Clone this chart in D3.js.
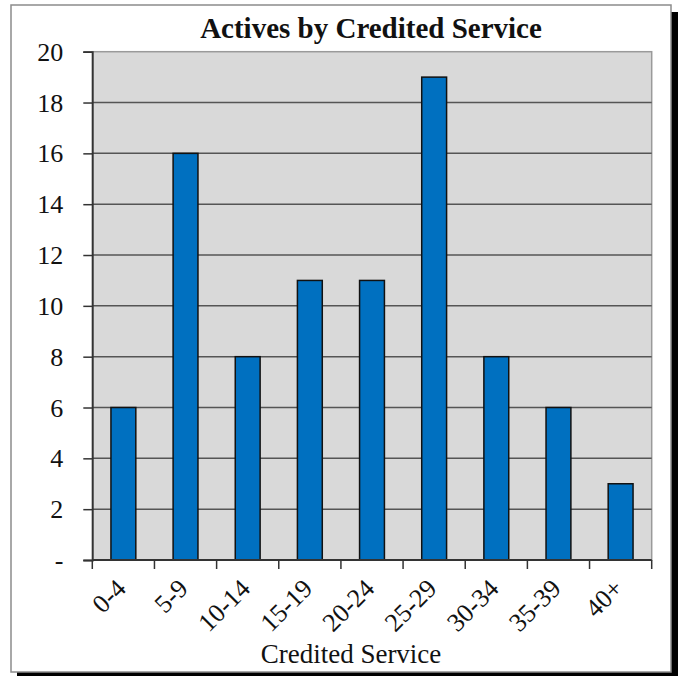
<!DOCTYPE html>
<html>
<head>
<meta charset="utf-8">
<script src="https://cdn.jsdelivr.net/npm/d3@7/dist/d3.min.js"></script>
<style>
  html, body { margin: 0; padding: 0; background: #fff; }
  svg { display: block; }
</style>
</head>
<body>
<svg id="chart" width="678" height="676"></svg>
<script>
// Number of active members in each credited-service band
const categories = ["0-4", "5-9", "10-14", "15-19", "20-24", "25-29", "30-34", "35-39", "40+"];
const actives = [6, 16, 8, 11, 11, 19, 8, 6, 3];
const yTicks = [0, 2, 4, 6, 8, 10, 12, 14, 16, 18, 20];

const svg = d3.select("#chart");
const font = "'Liberation Serif', 'Times New Roman', serif";

// Outer frame with drop shadow
svg.append("rect").attr("x", 17).attr("y", 12).attr("width", 661).attr("height", 664).attr("fill", "#000");
svg.append("rect").attr("x", 11).attr("y", 5).attr("width", 660).attr("height", 667)
  .attr("fill", "#fff").attr("stroke", "#8c8c8c").attr("stroke-width", 1.5);

const plot = { left: 92.3, right: 651.7, top: 51.7, bottom: 560 };

const x = d3.scaleBand().domain(categories).range([plot.left, plot.right]).paddingInner(0.6).paddingOuter(0.3);
const y = d3.scaleLinear().domain([0, 20]).range([plot.bottom, plot.top]);

// Plot area background
svg.append("rect").attr("x", plot.left).attr("y", plot.top)
  .attr("width", plot.right - plot.left).attr("height", plot.bottom - plot.top)
  .attr("fill", "#d9d9d9").attr("stroke", "#9a9a9a").attr("stroke-width", 1.5);

// Horizontal gridlines
svg.append("g").selectAll("line").data(yTicks.filter(d => d > 0 && d < 20)).join("line")
  .attr("x1", plot.left).attr("x2", plot.right)
  .attr("y1", d => y(d)).attr("y2", d => y(d))
  .attr("stroke", "#555").attr("stroke-width", 1.5);

// Bars
svg.append("g").selectAll("rect").data(actives).join("rect")
  .attr("x", (d, i) => x(categories[i]))
  .attr("y", d => y(d))
  .attr("width", x.bandwidth())
  .attr("height", d => y(0) - y(d))
  .attr("fill", "#0070c0")
  .attr("stroke", "#111").attr("stroke-width", 1.5);

// Y axis
const yAxis = d3.axisLeft(y).tickValues(yTicks).tickSize(9).tickPadding(20)
  .tickFormat(d => d === 0 ? "-" : d);
const gy = svg.append("g").attr("transform", `translate(${plot.left},0)`).call(yAxis);
gy.select(".domain").attr("stroke", "#333").attr("stroke-width", 1.8);
gy.selectAll(".tick line").attr("stroke", "#333").attr("stroke-width", 1.5);
gy.selectAll(".tick text").attr("font-family", font).attr("font-size", 26).attr("fill", "#111")
  .attr("dy", "0.33em");

// X axis: ticks at band boundaries
const bounds = categories.map(c => x(c) - x.step() * x.paddingInner() / 2);
bounds[0] = plot.left;
bounds.push(plot.right);
const gx = svg.append("g");
gx.append("line").attr("x1", plot.left).attr("x2", plot.right)
  .attr("y1", plot.bottom).attr("y2", plot.bottom).attr("stroke", "#333").attr("stroke-width", 1.8);
gx.selectAll("line.tk").data(bounds).join("line").attr("class", "tk")
  .attr("x1", d => d).attr("x2", d => d)
  .attr("y1", plot.bottom).attr("y2", plot.bottom + 9)
  .attr("stroke", "#333").attr("stroke-width", 1.5);
gx.selectAll("text").data(categories).join("text")
  .attr("transform", d => `translate(${x(d) + x.bandwidth() / 2 + 4},${plot.bottom + 30}) rotate(-45)`)
  .attr("text-anchor", "end")
  .attr("font-family", font).attr("font-size", 26).attr("fill", "#111")
  .text(d => d);

// Titles
svg.append("text").attr("x", 371).attr("y", 38).attr("text-anchor", "middle")
  .attr("font-family", font).attr("font-size", 29).attr("font-weight", "bold").attr("fill", "#111")
  .text("Actives by Credited Service");
svg.append("text").attr("x", 351).attr("y", 663).attr("text-anchor", "middle")
  .attr("font-family", font).attr("font-size", 27).attr("fill", "#111")
  .text("Credited Service");
</script>
</body>
</html>
